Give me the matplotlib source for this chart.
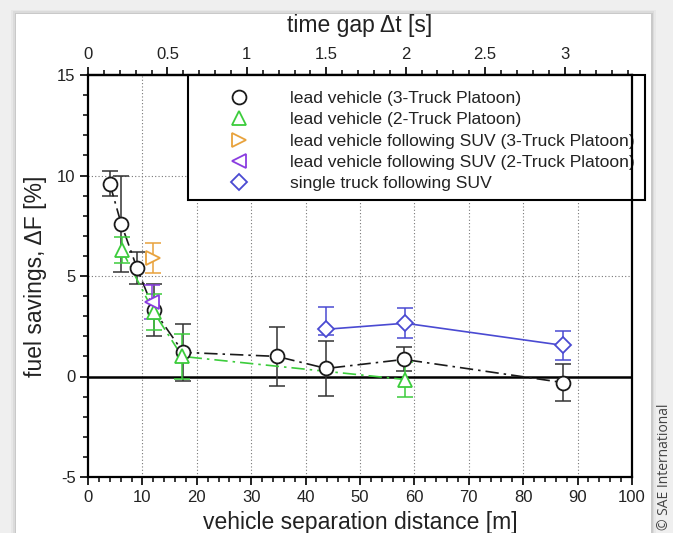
import numpy as np
import matplotlib
matplotlib.use("Agg")
import matplotlib.pyplot as plt
from matplotlib.patches import Rectangle
from matplotlib.ticker import MultipleLocator, FixedLocator, FormatStrFormatter

plt.rcParams['font.family'] = ['Liberation Sans', 'DejaVu Sans']
plt.rcParams['axes.unicode_minus'] = False

# vehicle speed used to convert separation distance to time gap [m/s]
speed = 29.2

# lead vehicle, 3-truck platoon
dist_3t = [4.0, 6.1, 9.0, 12.1, 17.5, 34.7, 43.8, 58.1, 87.3]
fs_3t = [9.6, 7.6, 5.4, 3.3, 1.2, 1.0, 0.4, 0.85, -0.3]
err_3t = [0.6, 2.4, 0.8, 1.3, 1.4, 1.45, 1.35, 0.6, 0.9]

# lead vehicle, 2-truck platoon
dist_2t = [6.2, 12.1, 17.3, 58.3]
fs_2t = [6.3, 3.2, 1.0, -0.15]
err_2t = [0.65, 0.9, 1.1, 0.85]

# lead vehicle following SUV
dist_suv3 = [12.0]
fs_suv3 = [5.9]
err_suv3 = [0.75]

dist_suv2 = [11.8]
fs_suv2 = [3.7]
err_suv2 = [0.85]

# single truck following SUV
dist_single = [43.8, 58.3, 87.3]
fs_single = [2.35, 2.65, 1.55]
err_single_lo = [0.3, 0.75, 0.75]
err_single_hi = [1.1, 0.75, 0.7]

labels = ['lead vehicle (3-Truck Platoon)',
          'lead vehicle (2-Truck Platoon)',
          'lead vehicle following SUV (3-Truck Platoon)',
          'lead vehicle following SUV (2-Truck Platoon)',
          'single truck following SUV']

time_ticks = [0, 0.5, 1, 1.5, 2, 2.5, 3]

c_black = '#1a1a1a'
c_green = '#3ccc3c'
c_orange = '#e8a23c'
c_purple = '#8a3ce0'
c_blue = '#4a4ad2'

fig = plt.figure(figsize=(6.73, 5.33), dpi=100, facecolor='#efefef')
# white card behind the chart, with a faint shadow
for i, a in enumerate([0.03, 0.05, 0.08]):
    d = (3 - i) * 1.5
    fig.patches.append(Rectangle(((16 - d) / 673, 0), (635 + 2 * d) / 673, (519 + d) / 533,
                                 transform=fig.transFigure, facecolor='#000000',
                                 alpha=a, edgecolor='none', zorder=-2))
fig.patches.append(Rectangle((16 / 673, 0), 635 / 673, 519 / 533, transform=fig.transFigure,
                             facecolor='white', edgecolor='none', zorder=-1))

ax = fig.add_axes([88 / 673, 1 - 477 / 533, 544 / 673, 402 / 533])
ax.set_zorder(2)
ax.set_facecolor('none')

ax.set_xlim(0, 100)
ax.set_ylim(-5, 15)

# grid
for gx in range(10, 100, 10):
    ax.axvline(gx, color='#777777', ls=(0, (1, 2)), lw=0.8, zorder=1)
for gy in (5, 10):
    ax.axhline(gy, color='#777777', ls=(0, (1, 2)), lw=0.8, zorder=1)
ax.axhline(0, color='black', lw=1.8, zorder=2)

ms = 10
mew = 1.3
ebkw = dict(capsize=6, elinewidth=1.1, capthick=1.1)

ax.errorbar(dist_3t, fs_3t, yerr=err_3t, fmt='none', ecolor='#333333', zorder=3, **ebkw)
ax.plot(dist_3t, fs_3t, color=c_black, ls=(0, (8, 3, 1.5, 3)), lw=1.2, zorder=3)

ax.errorbar(dist_2t, fs_2t, yerr=err_2t, fmt='none', ecolor=c_green, zorder=3, **ebkw)
ax.plot(dist_2t, fs_2t, color=c_green, ls=(0, (8, 3, 1.5, 3)), lw=1.2, zorder=3)

ax.errorbar(dist_suv3, fs_suv3, yerr=err_suv3, fmt='none', ecolor=c_orange, zorder=3, **ebkw)
ax.errorbar(dist_suv2, fs_suv2, yerr=err_suv2, fmt='none', ecolor=c_purple, zorder=3, **ebkw)

ax.errorbar(dist_single, fs_single, yerr=[err_single_lo, err_single_hi], fmt='none',
            ecolor=c_blue, zorder=3, **ebkw)
ax.plot(dist_single, fs_single, color=c_blue, lw=1.2, zorder=3)

mk = dict(ls='none', ms=ms, mew=mew, mfc='white', zorder=4)
h1, = ax.plot(dist_3t, fs_3t, marker='o', mec=c_black, label=labels[0], **mk)
h2, = ax.plot(dist_2t, fs_2t, marker='^', mec=c_green, label=labels[1], **mk)
h3, = ax.plot(dist_suv3, fs_suv3, marker='>', mec=c_orange, label=labels[2], **mk)
h4, = ax.plot(dist_suv2, fs_suv2, marker='<', mec=c_purple, label=labels[3], **mk)
h5, = ax.plot(dist_single, fs_single, marker='D', mec=c_blue, label=labels[4],
              ls='none', ms=ms * 0.8, mew=mew, mfc='white', zorder=4)

# legend frame reaches slightly past the right spine
ax.add_patch(Rectangle((100 / 544, 277 / 402), 457 / 544, 125 / 402, transform=ax.transAxes,
                       facecolor='white', edgecolor='black', lw=1.5, clip_on=False, zorder=6))
leg = ax.legend(handles=[h1, h2, h3, h4, h5], loc='upper left',
                bbox_to_anchor=((224 - 88) / 544, (477 - 91) / 402),
                frameon=False, borderpad=0, borderaxespad=0, handlelength=1.7,
                handletextpad=2.1, labelspacing=0.34, fontsize=12.6, numpoints=1)
leg.set_zorder(7)
for t in leg.get_texts():
    t.set_color('#222222')

for side in ['left', 'right', 'top', 'bottom']:
    ax.spines[side].set_linewidth(1.6)
    ax.spines[side].set_zorder(8)

ax.xaxis.set_major_locator(MultipleLocator(10))
ax.xaxis.set_minor_locator(MultipleLocator(2))
ax.yaxis.set_major_locator(MultipleLocator(5))
ax.yaxis.set_minor_locator(MultipleLocator(1))
ax.tick_params(which='major', direction='out', length=6, width=1.4, labelsize=12,
               colors='#222222', pad=3)
ax.tick_params(which='minor', direction='out', length=3.5, width=1.1)
ax.tick_params(axis='y', which='both', right=False)

ax.set_xlabel('vehicle separation distance [m]', fontsize=16.5, color='#222222', labelpad=5)
ax.set_ylabel('fuel savings, \u0394F [%]', fontsize=16.5, color='#222222', labelpad=7)

# time gap axis on top
top = ax.secondary_xaxis('top', functions=(lambda x: x / speed, lambda t: t * speed))
top.xaxis.set_major_locator(FixedLocator(time_ticks))
top.xaxis.set_minor_locator(FixedLocator(np.arange(0.1, 100 / speed, 0.1)))
top.xaxis.set_major_formatter(FormatStrFormatter('%g'))
top.tick_params(which='major', direction='out', length=6, width=1.4, labelsize=12,
                colors='#222222', pad=3)
top.tick_params(which='minor', direction='out', length=3.5, width=1.1)
top.spines['top'].set_linewidth(1.6)
top.set_xlabel('time gap \u0394t [s]', fontsize=16.5, color='#222222', labelpad=11)

fig.text(665 / 673, 3 / 533, '\u00a9 SAE International', rotation=90, fontsize=10,
         color='#444444', ha='center', va='bottom', family=['Open Sans', 'DejaVu Sans'])

fig.savefig('out.png', dpi=100, facecolor=fig.get_facecolor())
